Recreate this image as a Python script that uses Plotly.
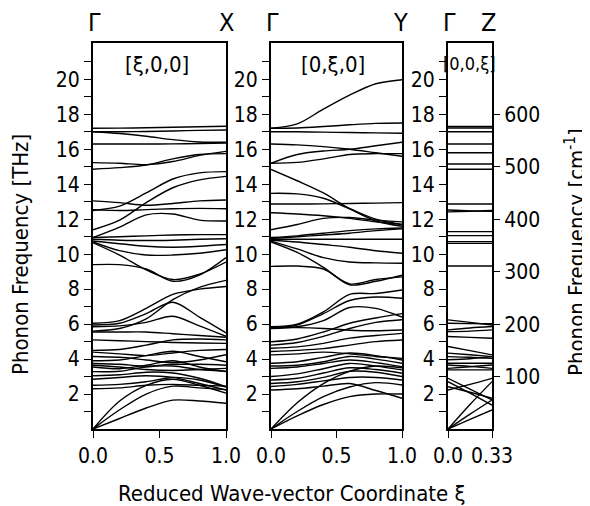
import plotly.graph_objects as go

FONT = "Liberation Sans Narrow, DejaVu Sans Condensed, sans-serif"

# ---------------- data: phonon branches (THz) ----------------
xi_gx = [0.0, 0.2, 0.4, 0.6, 0.8, 1.0]
gx_high = [
    [17.20, 17.21, 17.23, 17.26, 17.29, 17.32],
    [17.00, 17.00, 17.02, 17.05, 17.08, 17.10],
    [17.00, 16.90, 16.75, 16.55, 16.42, 16.40],
    [16.30, 16.30, 16.30, 16.31, 16.33, 16.35],
    [15.24, 15.20, 15.12, 15.30, 15.65, 15.88],
    [14.86, 14.95, 15.10, 15.45, 15.70, 15.75],
    [12.50, 12.75, 13.50, 14.30, 14.65, 14.72],
    [11.40, 11.95, 12.95, 13.80, 14.25, 14.45],
]
gx_mid = [
    [13.05, 12.95, 12.80, 12.90, 13.05, 13.10],
    [12.55, 12.50, 12.55, 12.60, 12.62, 12.60],
    [10.95, 11.55, 12.25, 12.30, 11.95, 11.90],
    [10.95, 11.00, 11.05, 11.10, 11.12, 11.12],
    [10.85, 10.80, 10.78, 10.80, 10.85, 10.88],
    [10.75, 10.60, 10.45, 10.40, 10.45, 10.55],
    [10.70, 10.20, 9.95, 9.95, 10.05, 10.25],
    [10.65, 9.95, 9.10, 8.55, 8.85, 9.55],
    [9.40, 9.40, 9.15, 8.45, 8.80, 9.80],
    [6.05, 6.20, 6.90, 7.70, 8.00, 8.15],
    [5.95, 6.05, 6.60, 7.25, 6.40, 5.50],
    [5.85, 5.90, 6.10, 6.45, 5.90, 5.30],
    [5.60, 5.75, 6.30, 7.40, 8.10, 8.50],
]
gx_low = [
    [5.55, 5.55, 5.55, 5.45, 5.35, 5.25],
    [5.10, 5.05, 5.00, 4.95, 4.92, 4.90],
    [4.50, 4.55, 4.80, 5.10, 5.15, 5.10],
    [4.40, 4.30, 4.20, 4.35, 4.50, 4.55],
    [4.15, 4.10, 3.95, 3.80, 3.95, 4.25],
    [3.90, 3.95, 4.20, 4.45, 4.15, 3.85],
    [3.75, 3.70, 3.60, 3.70, 3.70, 3.65],
    [3.65, 3.55, 3.40, 3.35, 3.40, 3.47],
    [3.55, 3.45, 3.65, 3.90, 3.55, 3.28],
    [3.28, 3.30, 3.55, 3.60, 3.40, 3.30],
    [3.05, 3.10, 3.25, 3.20, 2.90, 2.42],
    [2.85, 2.95, 3.05, 2.95, 2.60, 2.23],
    [2.50, 2.55, 2.70, 2.95, 2.80, 2.40],
    [2.30, 2.35, 2.50, 2.55, 2.50, 2.45],
    [0.00, 1.60, 2.50, 2.85, 2.50, 2.05],
    [0.00, 1.10, 2.00, 2.45, 2.35, 2.25],
    [0.00, 0.60, 1.20, 1.65, 1.60, 1.47],
]

xi_gy = [0.0, 0.2, 0.4, 0.6, 0.8, 1.0]
gy_high = [
    [17.20, 17.45, 18.30, 19.10, 19.75, 19.98],
    [17.20, 17.22, 17.30, 17.40, 17.48, 17.50],
    [17.00, 17.00, 16.98, 16.96, 16.94, 16.92],
    [16.30, 16.25, 16.15, 16.00, 15.80, 15.60],
    [15.20, 15.70, 15.90, 16.00, 16.20, 16.40],
    [15.20, 15.25, 15.45, 15.70, 15.75, 15.75],
    [14.85, 14.20, 13.50, 12.60, 11.90, 11.60],
    [13.48, 13.45, 13.20, 12.60, 12.00, 11.70],
]
gy_mid = [
    [12.87, 12.87, 12.88, 12.90, 12.92, 12.95],
    [12.37, 12.30, 12.20, 12.05, 11.85, 11.70],
    [11.40, 11.70, 12.05, 12.10, 11.95, 11.85],
    [10.95, 11.05, 11.20, 11.35, 11.45, 11.50],
    [10.90, 11.00, 11.10, 11.20, 11.35, 11.45],
    [10.85, 10.85, 10.85, 10.85, 10.85, 10.85],
    [10.80, 10.70, 10.55, 10.40, 10.20, 10.05],
    [10.75, 10.30, 9.80, 9.55, 9.50, 9.48],
    [10.70, 10.10, 9.25, 8.25, 8.45, 8.80],
    [9.30, 9.32, 9.15, 8.30, 8.55, 8.70],
    [5.85, 6.00, 6.70, 7.70, 7.75, 7.95],
    [5.80, 5.95, 6.60, 7.35, 7.55, 7.48],
    [5.75, 5.85, 6.20, 6.95, 6.90, 6.40],
]
gy_low = [
    [5.80, 5.80, 5.75, 5.65, 5.62, 5.66],
    [4.99, 5.15, 5.55, 6.05, 6.35, 6.60],
    [4.80, 4.95, 5.30, 5.75, 6.10, 6.25],
    [4.62, 4.70, 4.90, 5.20, 5.35, 5.47],
    [4.43, 4.50, 4.60, 4.80, 5.00, 5.09],
    [4.24, 4.30, 4.40, 4.30, 4.15, 4.04],
    [3.76, 3.85, 4.10, 4.35, 4.20, 3.95],
    [3.60, 3.65, 3.85, 4.15, 4.00, 3.76],
    [3.47, 3.55, 3.75, 3.95, 3.80, 3.57],
    [3.00, 3.15, 3.45, 3.75, 3.60, 3.38],
    [2.80, 2.90, 3.20, 3.50, 3.40, 3.19],
    [2.60, 2.70, 2.95, 3.30, 3.25, 3.00],
    [2.43, 2.55, 2.75, 2.95, 2.95, 2.80],
    [2.23, 2.30, 2.45, 2.60, 2.20, 1.76],
    [0.00, 1.50, 2.60, 3.30, 3.60, 3.50],
    [0.00, 1.00, 1.85, 2.40, 2.65, 2.52],
    [0.00, 0.75, 1.40, 1.85, 2.00, 2.00],
]

xi_gz = [0.0, 0.165, 0.33]
gz_high = [
    [17.30, 17.30, 17.30], [17.22, 17.22, 17.22], [17.00, 17.00, 17.00],
    [16.30, 16.30, 16.30], [15.80, 15.80, 15.80], [15.16, 15.16, 15.16],
    [14.86, 14.86, 14.86], [12.87, 12.87, 12.87], [12.53, 12.48, 12.45],
    [12.42, 12.46, 12.50], [11.29, 11.29, 11.29], [11.06, 11.06, 11.06],
    [10.72, 10.72, 10.72], [10.62, 10.62, 10.62], [9.32, 9.32, 9.32],
]
gz_low = [
    [6.24, 6.10, 5.95], [6.05, 6.03, 6.02], [5.67, 5.78, 5.86], [5.57, 5.60, 5.67],
    [5.29, 5.24, 5.19], [4.72, 4.48, 4.24], [4.34, 4.25, 4.14], [4.14, 4.10, 4.04],
    [3.96, 4.02, 4.14], [3.76, 3.76, 3.76], [3.66, 3.58, 3.47], [3.47, 3.56, 3.66],
    [3.38, 3.38, 3.38], [2.90, 2.28, 1.66], [2.71, 2.05, 1.37], [2.42, 2.10, 1.76],
    [2.23, 2.55, 2.90], [0.00, 1.40, 2.71], [0.00, 0.85, 1.66], [0.00, 0.55, 1.09],
]

thz_ticks = list(range(1, 22))
thz_labels = [str(v) if v % 2 == 0 else " " for v in thz_ticks]
cm_ticks = [100, 200, 300, 400, 500, 600]
x_ticks_full = [0.0, 0.5, 1.0]
x_labels_full = ["0.0", "0.5", "1.0"]
x_ticks_z = [0.0, 0.33]
x_labels_z = ["0.0", "0.33"]
THZ_TO_CM = 33.356
F_MAX = 22.08

# ---------------- figure ----------------
# the page body adds an 8 px offset, so the figure is 8 px smaller and positions shifted
OFF = 8
W, H = 590 - OFF, 506 - OFF
def px(x):
    return (x - OFF) / W
def py(y):
    return 1 - (y - OFF) / H

fig = go.Figure()
line_style = dict(color="black", width=1.4, shape="spline", smoothing=0.9)

def add_branches(xs, branches, xa, ya):
    for b in branches:
        fig.add_trace(go.Scatter(x=xs, y=b, mode="lines", line=line_style,
                                 xaxis=xa, yaxis=ya, showlegend=False,
                                 hoverinfo="skip"))

add_branches(xi_gx, gx_high + gx_mid + gx_low, "x", "y")
add_branches(xi_gy, gy_high + gy_mid + gy_low, "x2", "y2")
add_branches(xi_gz, gz_high + gz_low, "x3", "y3")
fig.add_trace(go.Scatter(x=[0], y=[0], mode="markers", marker=dict(opacity=0),
                         xaxis="x3", yaxis="y4", showlegend=False, hoverinfo="skip"))

tickfont = dict(family=FONT, size=21, color="black")
ydom = [py(429), py(43)]

def xaxis(dom, rng, tv, tt, anchor):
    return dict(domain=dom, range=rng, tickvals=tv, ticktext=tt, ticks="outside",
                ticklen=7, tickwidth=1.4, tickcolor="black", showline=True,
                mirror=True, linecolor="black", linewidth=1.8, showgrid=False,
                zeroline=False, tickfont=tickfont, anchor=anchor, automargin=False)

def yaxis(anchor):
    return dict(domain=ydom, range=[0, F_MAX], tickvals=thz_ticks, ticktext=thz_labels,
                ticks="outside", ticklen=7, tickwidth=1.4, tickcolor="black",
                showline=True, mirror=True, linecolor="black", linewidth=1.8,
                showgrid=False, zeroline=False, tickfont=tickfont, anchor=anchor,
                automargin=False)

fig.update_layout(
    template="none",
    width=W, height=H, autosize=False,
    margin=dict(l=0, r=0, t=0, b=0, pad=0, autoexpand=False),
    paper_bgcolor="white", plot_bgcolor="white",
    xaxis=xaxis([px(93), px(226)], [0, 1], x_ticks_full, x_labels_full, "y"),
    xaxis2=xaxis([px(271), px(402)], [0, 1], x_ticks_full, x_labels_full, "y2"),
    xaxis3=xaxis([px(448), px(492)], [0, 0.33], x_ticks_z, x_labels_z, "y3"),
    yaxis=yaxis("x"),
    yaxis2=yaxis("x2"),
    yaxis3=yaxis("x3"),
    yaxis4=dict(domain=ydom, range=[0, F_MAX * THZ_TO_CM], overlaying="y3",
                side="right", anchor="x3", tickvals=cm_ticks,
                ticktext=[str(v) for v in cm_ticks], ticks="outside", ticklen=7,
                tickwidth=1.4, tickcolor="black", showline=False, showgrid=False,
                zeroline=False, tickfont=tickfont, automargin=False),
)

def ann(text, x, y, size, angle=0, xanchor="center"):
    fig.add_annotation(text=text, x=px(x), y=py(y), xref="paper", yref="paper",
                       showarrow=False, textangle=angle, xanchor=xanchor,
                       yanchor="middle", font=dict(family=FONT, size=size, color="black"))

for lbl, xx in [("Γ", 94), ("X", 226), ("Γ", 272), ("Y", 400), ("Γ", 449), ("Z", 488)]:
    ann(lbl, xx, 22, 25)
ann("[ξ,0,0]", 157, 65, 22)
ann("[0,ξ,0]", 333, 65, 22)
ann("[0,0,ξ]", 469, 63, 18)
ann("Phonon Frequency [THz]", 21, 255, 22, angle=-90)
ann("Phonon Frequency [cm<sup>-1</sup>]", 575, 252, 22, angle=-90)
ann("Reduced Wave-vector Coordinate ξ", 292, 493, 22)

fig.write_html("out.html")
